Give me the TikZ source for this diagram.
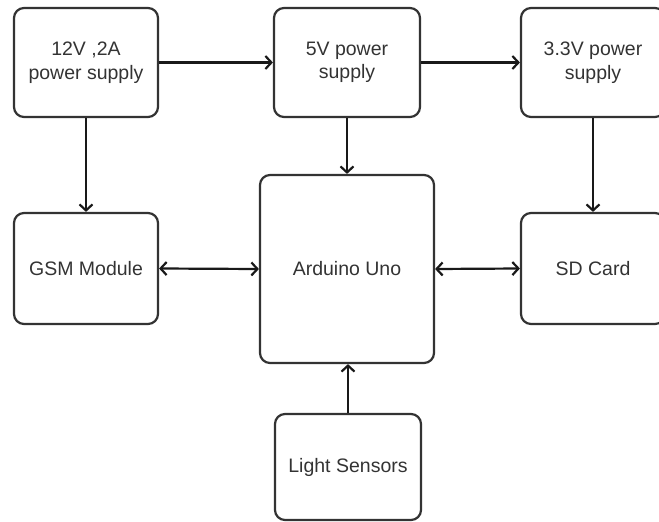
\documentclass[tikz,border=0pt]{standalone}
\usepackage{fontspec}
\setmainfont{Liberation Sans}
\usetikzlibrary{arrows.meta}
\definecolor{boxline}{HTML}{333333}
\definecolor{txt}{HTML}{333333}
\begin{document}
\begin{tikzpicture}[x=1pt,y=-1pt,
  tip/.style={Straight Barb[length=6pt,width=13pt,line width=2.2pt]},
  blk/.style={draw=boxline, line width=2.2pt, rounded corners=10pt, align=center,
    inner sep=0pt, text=txt, font=\fontsize{19.5}{23.5}\selectfont},
  conn/.style={draw=black!90, line width=2.2pt, -{Straight Barb[length=6pt,width=13pt,line width=2.2pt]}},
  bconn/.style={draw=black!90, line width=2.2pt, {Straight Barb[length=6pt,width=13pt,line width=2.2pt]}-{Straight Barb[length=6pt,width=13pt,line width=2.2pt]}}]
\useasboundingbox (0,0) rectangle (659,522);
\node[blk, minimum width=144pt, minimum height=109pt] (p12) at (86,62.5) {12V ,2A\\power supply};
\node[blk, minimum width=146pt, minimum height=109pt] (p5) at (347,62.5) {5V power\\supply};
\node[blk, minimum width=144pt, minimum height=109pt] (p33) at (593,62.5) {3.3V power\\supply};
\node[blk, minimum width=144pt, minimum height=111pt] (gsm) at (86,268.5) {GSM Module};
\node[blk, minimum width=174pt, minimum height=188pt] (ard) at (347,269) {Arduino Uno};
\node[blk, minimum width=144pt, minimum height=111pt] (sd) at (593,268.5) {SD Card};
\node[blk, minimum width=146pt, minimum height=106pt] (ls) at (348,467) {Light Sensors};
\draw[conn] (p12.east) -- (p5.west);
\draw[conn] (p5.east) -- (p33.west);
\draw[conn] (p12.south) -- (gsm.north);
\draw[conn] (p5.south) -- (ard.north);
\draw[conn] (p33.south) -- (sd.north);
\draw[bconn] (gsm.east) -- (ard.west);
\draw[bconn] (ard.east) -- (sd.west);
\draw[conn] (ls.north) -- (ls.north |- ard.south);
\end{tikzpicture}
\end{document}
